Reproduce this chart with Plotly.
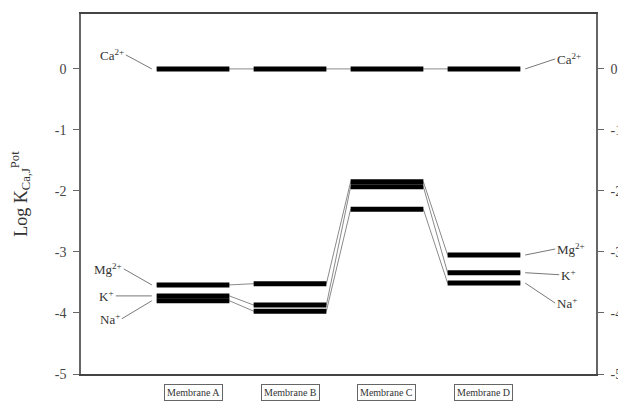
import plotly.graph_objects as go

# --- data -------------------------------------------------------------
membranes = ["Membrane A", "Membrane B", "Membrane C", "Membrane D"]
ions = ["Ca2+", "Mg2+", "K+", "Na+"]
ion_labels = ["Ca<sup>2+</sup>", "Mg<sup>2+</sup>", "K<sup>+</sup>", "Na<sup>+</sup>"]

log_k_ca = [0.0, 0.0, 0.0, 0.0]
log_k_mg = [-3.54, -3.52, -1.85, -3.05]
log_k_k = [-3.72, -3.87, -1.93, -3.34]
log_k_na = [-3.80, -3.97, -2.30, -3.51]

series = [log_k_ca, log_k_mg, log_k_k, log_k_na]
y_ticks = [0, -1, -2, -3, -4, -5]

SERIF = "Liberation Serif, Times New Roman, serif"
HALF = 0.375
pos = [1, 2, 3, 4]

fig = go.Figure()

for vals in series:
    # thin connecting line through all bar ends
    xs, ys = [], []
    for p, v in zip(pos, vals):
        xs += [p - HALF, p + HALF]
        ys += [v, v]
    fig.add_trace(go.Scatter(x=xs, y=ys, mode="lines",
                             line=dict(color="#8a8a8a", width=1),
                             hoverinfo="skip", showlegend=False))
    # thick level bars
    bx, by = [], []
    for p, v in zip(pos, vals):
        bx += [p - HALF, p + HALF, None]
        by += [v, v, None]
    fig.add_trace(go.Scatter(x=bx, y=by, mode="lines",
                             line=dict(color="black", width=5),
                             hoverinfo="skip", showlegend=False))

# secondary axis only for the right-hand ticks
fig.add_trace(go.Scatter(x=[None], y=[None], yaxis="y2", showlegend=False))

# ion labels with leader lines
left_off = [(-26, -14), (-28, -16), (-36, 0), (-30, 18)]
right_off = [(30, -10), (30, -6), (34, 2), (30, 20)]
for lab, vals, lo, ro in zip(ion_labels, series, left_off, right_off):
    fig.add_annotation(x=pos[0] - HALF - 0.05, y=vals[0], text=lab,
                       showarrow=True, arrowhead=0, arrowwidth=0.8, arrowcolor="#555",
                       ax=lo[0], ay=lo[1], xanchor="right",
                       font=dict(family=SERIF, size=13, color="#333"))
    fig.add_annotation(x=pos[-1] + HALF + 0.05, y=vals[-1], text=lab,
                       showarrow=True, arrowhead=0, arrowwidth=0.8, arrowcolor="#555",
                       ax=ro[0], ay=ro[1], xanchor="left",
                       font=dict(family=SERIF, size=13, color="#333"))

# membrane labels in boxes
for p, m in zip(pos, membranes):
    fig.add_annotation(x=p, y=-0.028, yref="paper", yanchor="top", text=m,
                       showarrow=False, bordercolor="#666", borderwidth=1, borderpad=2,
                       font=dict(family=SERIF, size=10, color="#333"))

yaxis_common = dict(
    range=[-5, 0.9], tickvals=y_ticks, ticktext=[str(t) for t in y_ticks],
    ticks="outside", ticklen=6, tickcolor="#666", automargin=False,
    showgrid=False, zeroline=False, showline=True, linecolor="#666", linewidth=1.5,
    tickfont=dict(family=SERIF, size=14, color="#444"),
)

fig.update_layout(
    width=626, height=401,
    margin=dict(l=73, r=38, t=6, b=35),
    paper_bgcolor="white", plot_bgcolor="white",
    xaxis=dict(range=[-0.155, 5.155], showticklabels=False, ticks="", automargin=False,
               showgrid=False, zeroline=False, showline=True,
               linecolor="#444", linewidth=1.5, mirror=True),
    yaxis=dict(**yaxis_common, ticklabelstandoff=4,
               title=dict(text="Log K<sub>Ca,J</sub><sup>Pot</sup>",
                          font=dict(family=SERIF, size=18, color="#333"), standoff=28)),
    yaxis2=dict(**yaxis_common, overlaying="y", side="right", ticklabelstandoff=4),
)

fig.write_html("out.html")
